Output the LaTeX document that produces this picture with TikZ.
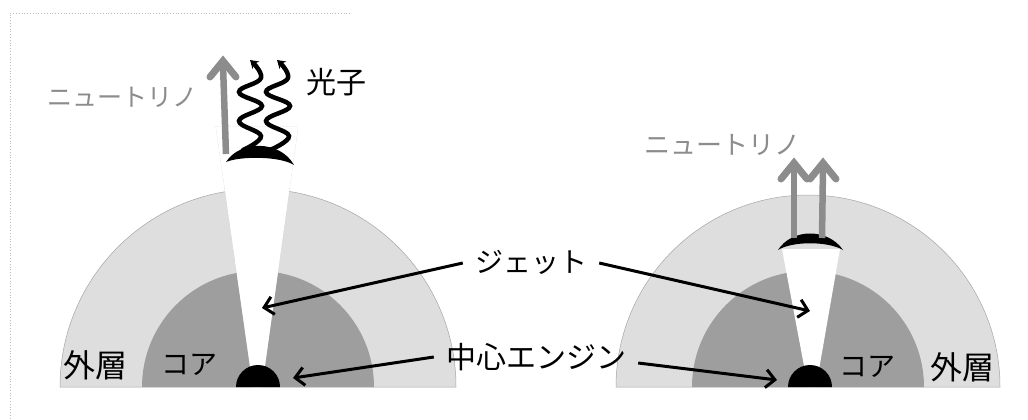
\documentclass[tikz,border=0pt]{standalone}
\usepackage{fontspec}
\newfontfamily\jp{Noto Sans CJK JP}
\usetikzlibrary{arrows.meta,calc}
\definecolor{outerc}{HTML}{DEDEDE}
\definecolor{corec}{HTML}{9E9E9E}
\definecolor{nug}{HTML}{8C8C8C}
\tikzset{
  lbl/.style={font=\jp\fontsize{28}{28}\selectfont, text=black, inner sep=0pt},
  nulbl/.style={font=\jp\fontsize{25}{25}\selectfont, text=nug, inner sep=0pt},
  callout/.style={line width=3pt, -{Straight Barb[length=9pt,width=18pt]}},
  nushaft/.style={draw=nug, line width=6.5pt},
  nuhead/.style={draw=nug, line width=7pt, line join=miter, line cap=round},
  photon/.style={line width=4.5pt, line cap=round, -{Stealth[length=8pt,width=10pt]}},
  jetbox/.style={fill=white, draw=black!25, densely dotted, line width=0.6pt},
}
% a thick gray chevron head at a named tip
\newcommand\nuchevron[1]{\draw[nuhead] ($(#1)+(-13,20)$) -- ($(#1)+(0,4)$) -- ($(#1)+(13,20)$);}
\begin{document}
\begin{tikzpicture}[x=1pt,y=-1pt]
\useasboundingbox (0,0) rectangle (1028,420);
\fill[white] (0,0) rectangle (1028,420);
% faint frame
\draw[black!25, dotted, line width=0.8pt] (350,13) -- (10,13) -- (10,420);

% ---------- left star ----------
\coordinate (lc) at (258,387);
\fill[outerc, draw=black!35, line width=0.5pt] ($(lc)+(-198,0)$) arc[start angle=180, end angle=0, radius=198pt] -- cycle;
\fill[corec] ($(lc)+(-116,0)$) arc[start angle=180, end angle=0, radius=116pt] -- cycle;
\draw[jetbox] (253,387) -- (216,127) -- (298,127) -- (262,387);
\fill[white] (253,387) -- (216,127) -- (298,127) -- (262,387) -- cycle;
\fill[black] ($(lc)+(-22,0)$) arc[start angle=180, end angle=0, radius=22pt] -- cycle;
\coordinate (lengine) at (293,378);
\coordinate (ljet) at (262,308);
% shock cap
\fill[black] (226,162) .. controls (240,140) and (280,140) .. (294,165) .. controls (280,156) and (240,156) .. (226,162) -- cycle;
\coordinate (lcap) at (226,154);
\coordinate (lnutip) at (223,57);
\draw[nushaft] (lcap) -- ($(lnutip)+(0,8)$);
\nuchevron{lnutip}
% photons
\draw[photon] plot[smooth, tension=0.7] coordinates {(243,150) (261,136) (239,121) (262,106) (239,92) (261,78) (250,60)};
\draw[photon] plot[smooth, tension=0.7] coordinates {(270,150) (289,136) (266,121) (290,106) (266,92) (288,78) (277,60)};
\node[nulbl] (lnu) at (122,97) {ニュートリノ};
\node[lbl, font=\jp\fontsize{30}{30}\selectfont] (photon) at (336,82) {光子};
\node[lbl, font=\jp\fontsize{32}{32}\selectfont] (louter) at (95,365) {外層};
\node[lbl] (lcore) at (189,365) {コア};

% ---------- right star ----------
\coordinate (rc) at (808,387);
\fill[outerc, draw=black!35, line width=0.5pt] ($(rc)+(-192,0)$) arc[start angle=180, end angle=0, radius=192pt] -- cycle;
\fill[corec] ($(rc)+(-116,0)$) arc[start angle=180, end angle=0, radius=116pt] -- cycle;
\fill[white] (808,387) -- (782,249) -- (840,249) -- (816,387) -- cycle;
\fill[black] ($(810,387)+(-22,0)$) arc[start angle=180, end angle=0, radius=22pt] -- cycle;
\coordinate (rengine) at (777,380);
\coordinate (rjet) at (810,311);
\fill[black] (778,250) .. controls (792,228) and (828,228) .. (843,250) .. controls (828,241) and (792,241) .. (778,250) -- cycle;
\coordinate (rcap1) at (794,238);
\coordinate (rcap2) at (822,238);
\coordinate (rtip1) at (794,159);
\coordinate (rtip2) at (823,159);
\draw[nushaft] (rcap1) -- ($(rtip1)+(0,8)$);
\draw[nushaft] (rcap2) -- ($(rtip2)+(0,8)$);
\nuchevron{rtip1}
\nuchevron{rtip2}
\node[nulbl, font=\jp\fontsize{26}{26}\selectfont] (rnu) at (722,145) {ニュートリノ};
\node[lbl] (rcore) at (867,367) {コア};
\node[lbl, font=\jp\fontsize{32}{32}\selectfont] (router) at (962,367) {外層};

% ---------- shared labels ----------
\node[lbl] (jet) at (531,262) {ジェット};
\node[lbl, font=\jp\fontsize{30}{30}\selectfont] (engine) at (536,357) {中心エンジン};
\draw[callout] (jet.west) ++(-12,1) -- (ljet);
\draw[callout] (jet.east) ++(12,1) -- (rjet);
\draw[callout] (engine.west) ++(-12,0) -- (lengine);
\draw[callout] (engine.east) ++(12,6) -- (rengine);
\end{tikzpicture}
\end{document}
